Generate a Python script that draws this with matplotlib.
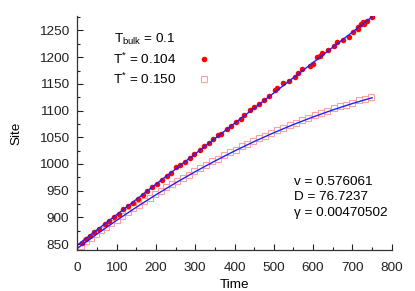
import matplotlib.pyplot as plt
from matplotlib.lines import Line2D
from matplotlib.ticker import MultipleLocator

plt.rcParams['font.family'] = ['Liberation Sans', 'DejaVu Sans']
plt.rcParams['mathtext.fontset'] = 'custom'
plt.rcParams['mathtext.rm'] = 'Liberation Sans'
plt.rcParams['mathtext.it'] = 'Liberation Sans'

# T* = 0.104 (filled red circles)
t_low = [11, 21, 32, 43, 56, 70, 80, 94, 105, 117, 130, 141, 155, 166, 178, 190,
         202, 215, 227, 238, 250, 262, 273, 286, 297, 312, 322, 336, 346, 359, 365,
         380, 390, 404, 416, 425, 439, 450, 462, 475, 488, 502, 507, 524, 539, 553,
         562, 571, 592, 600, 609, 618, 623, 637, 652, 661, 677, 692, 702, 713, 715,
         721, 728, 730, 737, 751]
site_low = [852, 859, 866, 873, 879, 887, 893, 901, 907, 915, 921, 927, 935, 942, 950, 956,
            962, 970, 977, 983, 994, 999, 1004, 1012, 1018, 1027, 1033, 1040, 1047, 1054, 1057,
            1065, 1072, 1079, 1085, 1091, 1101, 1106, 1112, 1120, 1127, 1138, 1143, 1151, 1156, 1163,
            1170, 1178, 1183, 1187, 1200, 1203, 1207, 1213, 1221, 1229, 1232, 1237, 1248, 1257, 1252,
            1262, 1266, 1262, 1268, 1276]

# T* = 0.150 (open squares)
t_high = [10, 22, 35, 48, 60, 73, 86, 100, 114, 128, 142, 156, 170, 184, 198, 212,
          226, 240, 254, 268, 283, 298, 313, 328, 343, 358, 373, 388, 403, 418, 433,
          448, 463, 478, 493, 508, 524, 540, 556, 572, 588, 604, 620, 636, 652, 668,
          684, 700, 716, 732, 748]
site_high = [847, 855, 862, 868, 876, 882, 889, 896, 903, 910, 917, 923, 930, 937, 943, 949,
             956, 962, 968, 974, 980, 986, 993, 999, 1005, 1010, 1016, 1022, 1027, 1033, 1038,
             1043, 1049, 1053, 1058, 1063, 1068, 1073, 1077, 1082, 1087, 1091, 1095, 1100, 1104, 1108,
             1111, 1115, 1119, 1122, 1126]

# fitted curves
t_fit = [0, 50, 100, 150, 200, 250, 300, 350, 400, 450, 500, 550, 600, 650, 700, 750]
fit_low = [848, 876.5, 905, 933.5, 962, 990.5, 1019, 1047.5, 1076, 1104.5, 1133, 1161.5,
           1190, 1218.5, 1247, 1275.5]
fit_high = [842, 868.8, 894.4, 918.9, 942.3, 964.5, 985.6, 1005.5, 1024.3, 1042.0, 1058.5,
            1073.9, 1088.1, 1101.2, 1113.2, 1124.0]

fig = plt.figure(figsize=(4.15, 2.91), dpi=100)
ax = fig.add_axes([0.1863, 0.1392, 0.7576, 0.8075])

sq = ax.plot(t_high, site_high, 's', ms=3.8, mfc='none', mec='#ffa0a0', mew=0.8)[0]
dot = ax.plot(t_low, site_low, 'o', ms=4.0, color='red', mew=0)[0]
ax.plot(t_fit, fit_low, color='#2020ff', lw=1.0)
ax.plot(t_fit, fit_high, color='#2020ff', lw=1.0)

ax.set_xlim(0, 800)
ax.set_ylim(838, 1278)
ax.xaxis.set_major_locator(MultipleLocator(100))
ax.xaxis.set_minor_locator(MultipleLocator(50))
ax.yaxis.set_major_locator(MultipleLocator(50))
ax.yaxis.set_minor_locator(MultipleLocator(25))
ax.tick_params(which='both', direction='in', labelsize=9.7, colors='#222222')
ax.tick_params(which='major', length=4, width=0.8)
ax.tick_params(which='minor', length=2.5, width=0.8)
ax.tick_params(axis='x', pad=8)
ax.tick_params(axis='y', pad=6)
for s in ['top', 'right']:
    ax.spines[s].set_visible(False)
for s in ['left', 'bottom']:
    ax.spines[s].set_color('#333333')
    ax.spines[s].set_linewidth(0.9)

ax.set_xlabel('Time', fontsize=9.7, labelpad=4)
ax.set_ylabel('Site', fontsize=9.7, labelpad=12)

blank = Line2D([], [], ls='none', marker='none')
ax.legend([blank, dot, sq], ['T$_{\\rm bulk}$ = 0.1', 'T$^{*}$ = 0.104', 'T$^{*}$ = 0.150'],
          loc='upper left', bbox_to_anchor=(0.095, 0.955), frameon=False, markerfirst=False,
          fontsize=9.7, handlelength=1.0, handletextpad=1.6, labelspacing=0.38,
          borderaxespad=0)

ax.text(0.688, 0.318, 'v = 0.576061\nD = 76.7237\nγ = 0.00470502', transform=ax.transAxes,
        fontsize=9.7, va='top', ha='left', linespacing=1.4)

fig.savefig('out.png', dpi=100)
